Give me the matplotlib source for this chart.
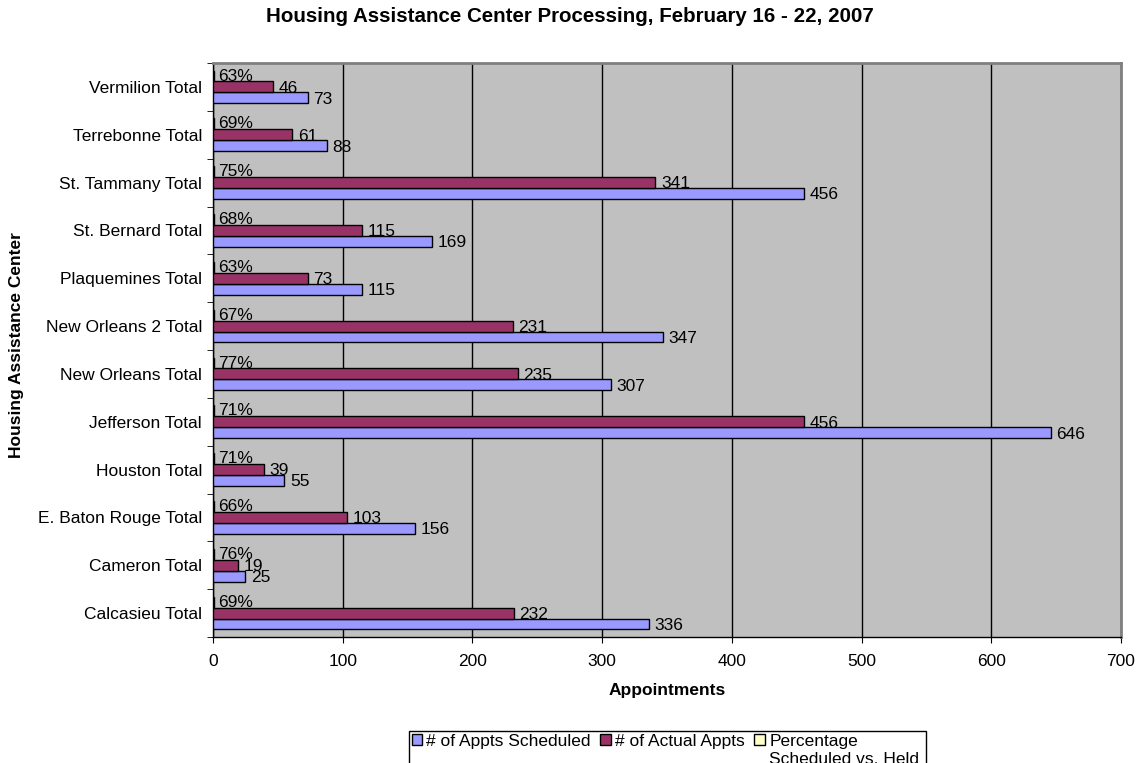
import numpy as np
import matplotlib.pyplot as plt
from matplotlib.patches import Rectangle

plt.rcParams['font.family'] = ['Liberation Sans', 'DejaVu Sans']

centers = ['Calcasieu Total', 'Cameron Total', 'E. Baton Rouge Total', 'Houston Total',
           'Jefferson Total', 'New Orleans Total', 'New Orleans 2 Total', 'Plaquemines Total',
           'St. Bernard Total', 'St. Tammany Total', 'Terrebonne Total', 'Vermilion Total']
scheduled = [336, 25, 156, 55, 646, 307, 347, 115, 169, 456, 88, 73]
actual = [232, 19, 103, 39, 456, 235, 231, 73, 115, 341, 61, 46]
pct_held = [0.69, 0.76, 0.66, 0.71, 0.71, 0.77, 0.67, 0.63, 0.68, 0.75, 0.69, 0.63]

FS = 12.5
W, H = 1140, 763

fig = plt.figure(figsize=(W / 100, H / 100), dpi=100)
ax = fig.add_axes([213 / W, 1 - 637 / H, (1121 - 213) / W, (637 - 63) / H])
ax.set_facecolor('#C0C0C0')

y = np.arange(len(centers))
h = 0.228
b1 = ax.barh(y - h, scheduled, h, color='#9999FF', edgecolor='black', linewidth=1, zorder=3)
b2 = ax.barh(y, actual, h, color='#993366', edgecolor='black', linewidth=1, zorder=3)
b3 = ax.barh(y + h, pct_held, h, color='#FFFFCC', edgecolor='black', linewidth=1, zorder=3)

for i in range(len(centers)):
    ax.annotate(f'{scheduled[i]}', (scheduled[i], y[i] - h), xytext=(4, -1),
                textcoords='offset points', ha='left', va='center', fontsize=FS, zorder=4)
    ax.annotate(f'{actual[i]}', (actual[i], y[i]), xytext=(4, -1),
                textcoords='offset points', ha='left', va='center', fontsize=FS, zorder=4)
    ax.annotate(f'{pct_held[i]:.0%}', (pct_held[i], y[i] + h), xytext=(3, 0),
                textcoords='offset points', ha='left', va='center', fontsize=FS, zorder=4)

ax.set_xlim(0, 700)
ax.set_ylim(-0.5, len(centers) - 0.5)
ax.set_xticks(range(0, 701, 100))
ax.tick_params(axis='x', labelsize=FS, length=4, direction='out', pad=8)
ax.set_yticks(y)
ax.set_yticklabels(centers, fontsize=FS)
ax.set_yticks(np.arange(-0.5, len(centers)), minor=True)
ax.tick_params(axis='y', which='major', length=0, pad=8)
ax.tick_params(axis='y', which='minor', length=4, direction='out')
ax.xaxis.grid(True, color='black', linewidth=1, zorder=1)
ax.set_axisbelow(True)

for side in ['top', 'right']:
    ax.spines[side].set_color('#808080')
    ax.spines[side].set_linewidth(2)
for side in ['left', 'bottom']:
    ax.spines[side].set_color('black')
    ax.spines[side].set_linewidth(1)

fig.text(667 / W, 1 - 690 / H, 'Appointments', ha='center', va='center',
         fontsize=FS, fontweight='bold')
fig.text(17 / W, 1 - 345 / H, 'Housing Assistance Center', ha='center', va='center',
         rotation=90, fontsize=FS, fontweight='bold')
fig.text(0.5, 1 - 17 / H, 'Housing Assistance Center Processing, February 16 - 22, 2007',
         ha='center', va='center', fontsize=14.8, fontweight='bold')

# legend row, with the wrapped second line of the last entry added underneath
leg = fig.legend(handles=[b1, b2, b3],
                 labels=['# of Appts Scheduled', '# of Actual Appts', 'Percentage'],
                 loc='upper left', bbox_to_anchor=(409 / W, 1 - 731 / H),
                 ncol=3, fontsize=FS, frameon=False, handlelength=0.6, handleheight=0.6,
                 handletextpad=0.25, columnspacing=0.55, borderpad=0.15, borderaxespad=0)
for p in leg.legend_handles:
    p.set_edgecolor('black')
    p.set_linewidth(1)
fig.canvas.draw()
tb = leg.get_texts()[2].get_window_extent()
fig.text(tb.x0 / W, (tb.y0 - 3) / H, 'Scheduled vs. Held', ha='left', va='top', fontsize=FS)
fig.add_artist(Rectangle((409 / W, -0.02), (926 - 409) / W, 0.02 + (H - 731) / H,
                         transform=fig.transFigure, facecolor='none', edgecolor='black',
                         linewidth=1))

fig.savefig('out.png', dpi=100)
